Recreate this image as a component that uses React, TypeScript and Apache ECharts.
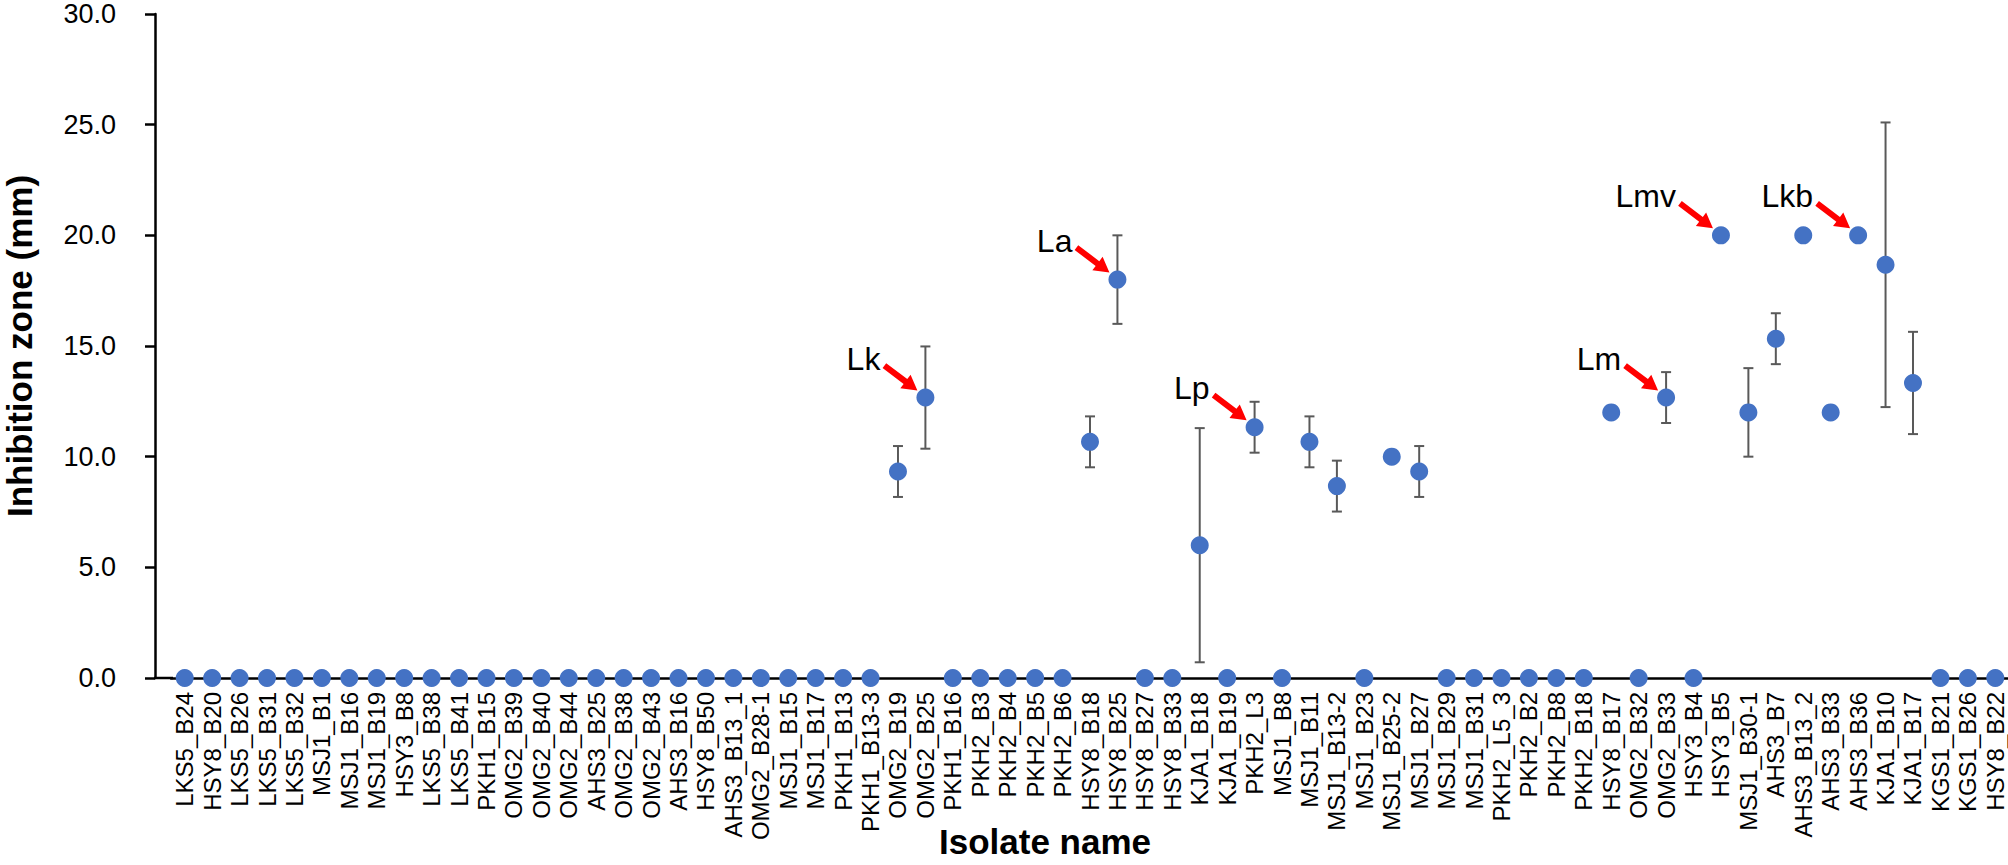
import React, { useEffect, useRef } from "react";
import * as echarts from "echarts";

const FONT = "'Liberation Sans', Arial, Helvetica, sans-serif";

const categories: string[] = [
  "LKS5_B24", "HSY8_B20", "LKS5_B26", "LKS5_B31", "LKS5_B32", "MSJ1_B1", "MSJ1_B16", "MSJ1_B19",
  "HSY3_B8", "LKS5_B38", "LKS5_B41", "PKH1_B15", "OMG2_B39", "OMG2_B40", "OMG2_B44", "AHS3_B25",
  "OMG2_B38", "OMG2_B43", "AHS3_B16", "HSY8_B50", "AHS3_B13_1", "OMG2_B28-1", "MSJ1_B15", "MSJ1_B17",
  "PKH1_B13", "PKH1_B13-3", "OMG2_B19", "OMG2_B25", "PKH1_B16", "PKH2_B3", "PKH2_B4", "PKH2_B5",
  "PKH2_B6", "HSY8_B18", "HSY8_B25", "HSY8_B27", "HSY8_B33", "KJA1_B18", "KJA1_B19", "PKH2_L3",
  "MSJ1_B8", "MSJ1_B11", "MSJ1_B13-2", "MSJ1_B23", "MSJ1_B25-2", "MSJ1_B27", "MSJ1_B29", "MSJ1_B31",
  "PKH2_L5_3", "PKH2_B2", "PKH2_B8", "PKH2_B18", "HSY8_B17", "OMG2_B32", "OMG2_B33", "HSY3_B4",
  "HSY3_B5", "MSJ1_B30-1", "AHS3_B7", "AHS3_B13_2", "AHS3_B33", "AHS3_B36", "KJA1_B10", "KJA1_B17",
  "KGS1_B21", "KGS1_B26", "HSY8_B22",
];

// Mean inhibition zone (mm)
const means: number[] = [
  0, 0, 0, 0, 0, 0, 0, 0,
  0, 0, 0, 0, 0, 0, 0, 0,
  0, 0, 0, 0, 0, 0, 0, 0,
  0, 0, 9.33, 12.67, 0, 0, 0, 0,
  0, 10.67, 18, 0, 0, 6, 0, 11.33,
  0, 10.67, 8.67, 0, 10, 9.33, 0, 0,
  0, 0, 0, 0, 12, 0, 12.67, 0,
  20, 12, 15.33, 20, 12, 20, 18.67, 13.33,
  0, 0, 0,
];

// Standard deviation (error bar half-length)
const errors: number[] = [
  0, 0, 0, 0, 0, 0, 0, 0,
  0, 0, 0, 0, 0, 0, 0, 0,
  0, 0, 0, 0, 0, 0, 0, 0,
  0, 0, 1.15, 2.31, 0, 0, 0, 0,
  0, 1.15, 2, 0, 0, 5.29, 0, 1.15,
  0, 1.15, 1.15, 0, 0, 1.15, 0, 0,
  0, 0, 0, 0, 0, 0, 1.15, 0,
  0, 2, 1.15, 0, 0, 0, 6.43, 2.31,
  0, 0, 0,
];

const annotationLabels: string[] = ["Lk", "La", "Lp", "Lm", "Lmv", "Lkb"];
const annotationTargets: string[] = ["OMG2_B25", "HSY8_B25", "PKH2_L3", "OMG2_B33", "HSY3_B5", "AHS3_B36"];

const yTicks = { min: 0, max: 30, interval: 5 };

export default function App() {
  const ref = useRef<HTMLDivElement>(null);

  useEffect(() => {
    if (!ref.current) return;
    const chart = echarts.init(ref.current, undefined, { renderer: "svg" });

    const errData = means
      .map((m, i) => [i, m - errors[i], m + errors[i], errors[i]])
      .filter((d) => d[3] > 0);

    const annData = annotationTargets.map((t, k) => {
      const idx = categories.indexOf(t);
      return [idx, means[idx], k];
    });

    const option: any = {
      animation: false,
      backgroundColor: "#ffffff",
      textStyle: { fontFamily: FONT },
      grid: {
        left: 171,
        top: 14,
        width: 1838,
        height: 664,
        containLabel: false,
        outerBoundsMode: "none",
      },
      xAxis: {
        type: "category",
        data: categories,
        boundaryGap: true,
        axisLine: { show: true, onZero: false, lineStyle: { color: "#000", width: 2.5 } },
        axisTick: { show: false },
        splitLine: { show: false },
        axisLabel: {
          interval: 0,
          rotate: 90,
          margin: 14,
          fontSize: 24,
          color: "#000",
          fontFamily: FONT,
        },
        name: "Isolate name",
        nameLocation: "middle",
        nameGap: 146,
        nameMoveOverlap: false,
        nameTextStyle: {
          fontSize: 35,
          fontWeight: "bold",
          color: "#000",
          fontFamily: FONT,
          padding: [0, 90, 0, 0],
        },
      },
      yAxis: {
        type: "value",
        min: yTicks.min,
        max: yTicks.max,
        interval: yTicks.interval,
        offset: 16,
        axisLine: { show: true, lineStyle: { color: "#000", width: 2.5 } },
        axisTick: { show: true, inside: false, length: 10, lineStyle: { color: "#000", width: 2.5 } },
        splitLine: { show: false },
        axisLabel: {
          formatter: (v: number) => v.toFixed(1),
          fontSize: 27,
          margin: 39,
          color: "#000",
          fontFamily: FONT,
        },
        name: "Inhibition zone (mm)",
        nameLocation: "middle",
        nameRotate: 90,
        nameGap: 118,
        nameMoveOverlap: false,
        nameTextStyle: { fontSize: 35, fontWeight: "bold", color: "#000", fontFamily: FONT },
      },
      graphic: [
        {
          type: "line",
          shape: { x1: 154, y1: 678, x2: 173, y2: 678 },
          style: { stroke: "#000", lineWidth: 2.5 },
          z: 1,
        },
      ],
      series: [
        {
          type: "custom",
          name: "error",
          data: errData,
          encode: { x: 0, y: [1, 2] },
          z: 3,
          renderItem: (_params: any, api: any) => {
            const x = api.value(0);
            const lo = api.coord([x, api.value(1)]);
            const hi = api.coord([x, api.value(2)]);
            const cap = 5;
            const st = { stroke: "#595959", lineWidth: 2 };
            return {
              type: "group",
              children: [
                { type: "line", shape: { x1: lo[0], y1: lo[1], x2: hi[0], y2: hi[1] }, style: st },
                { type: "line", shape: { x1: hi[0] - cap, y1: hi[1], x2: hi[0] + cap, y2: hi[1] }, style: st },
                { type: "line", shape: { x1: lo[0] - cap, y1: lo[1], x2: lo[0] + cap, y2: lo[1] }, style: st },
              ],
            };
          },
        },
        {
          type: "scatter",
          name: "mean",
          data: means,
          symbol: "circle",
          symbolSize: 18,
          clip: false,
          z: 5,
          itemStyle: { color: "#4472C4", opacity: 1 },
        },
        {
          type: "custom",
          name: "annotations",
          data: annData,
          encode: { x: 0, y: 1 },
          z: 6,
          renderItem: (_params: any, api: any) => {
            const p = api.coord([api.value(0), api.value(1)]);
            const k = api.value(2);
            const tail = [p[0] - 41, p[1] - 32];
            const tip = [p[0] - 8, p[1] - 7];
            const dx = tip[0] - tail[0];
            const dy = tip[1] - tail[1];
            const len = Math.sqrt(dx * dx + dy * dy);
            const ux = dx / len;
            const uy = dy / len;
            const nx = -uy;
            const ny = ux;
            const headLen = 15;
            const shaftW = 3;
            const headW = 8.5;
            const bx = tip[0] - ux * headLen;
            const by = tip[1] - uy * headLen;
            const pts = [
              [tail[0] + nx * shaftW, tail[1] + ny * shaftW],
              [bx + nx * shaftW, by + ny * shaftW],
              [bx + nx * headW, by + ny * headW],
              [tip[0], tip[1]],
              [bx - nx * headW, by - ny * headW],
              [bx - nx * shaftW, by - ny * shaftW],
              [tail[0] - nx * shaftW, tail[1] - ny * shaftW],
            ];
            return {
              type: "group",
              children: [
                {
                  type: "text",
                  style: {
                    text: annotationLabels[k],
                    x: p[0] - 45,
                    y: p[1] - 39,
                    align: "right",
                    verticalAlign: "middle",
                    fontSize: 32,
                    fontFamily: FONT,
                    fill: "#000",
                  },
                },
                { type: "polygon", shape: { points: pts }, style: { fill: "#FF0000" } },
              ],
            };
          },
        },
      ],
    };

    chart.setOption(option);
    return () => chart.dispose();
  }, []);

  return (
    <div
      ref={ref}
      style={{ position: "fixed", left: 0, top: 0, width: 2008, height: 865, background: "#fff" }}
    />
  );
}
